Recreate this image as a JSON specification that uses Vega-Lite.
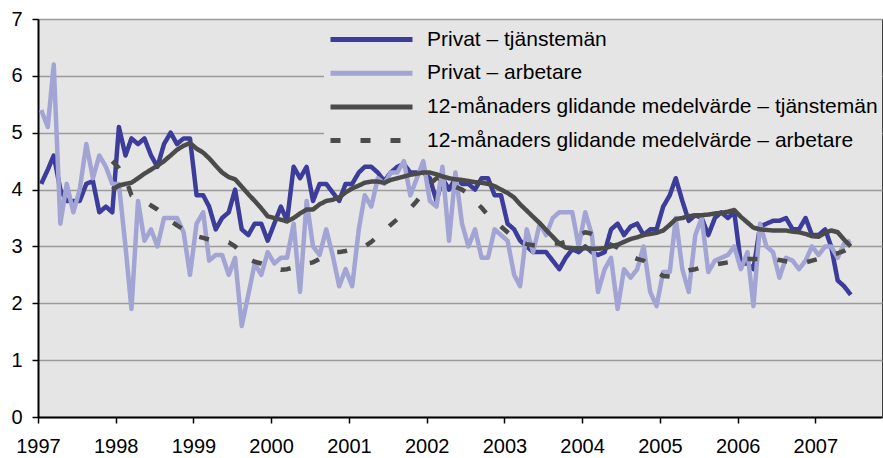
{
  "$schema": "https://vega.github.io/schema/vega-lite/v6.json",
  "width": 844,
  "height": 398,
  "autosize": {"type": "none"},
  "padding": {"left": 38, "top": 19, "right": 1, "bottom": 41},
  "background": "white",
  "config": {
    "font": "Liberation Sans",
    "view": {"fill": "#e5e5e5", "stroke": "#404040", "strokeWidth": 1}
  },
  "data": {"values": [
    {"d":"1997-01-16","t":4.1,"a":5.4},
    {"d":"1997-02-16","t":4.35,"a":5.1},
    {"d":"1997-03-16","t":4.6,"a":6.2},
    {"d":"1997-04-16","t":4.0,"a":3.4},
    {"d":"1997-05-16","t":3.8,"a":4.1},
    {"d":"1997-06-16","t":3.8,"a":3.6},
    {"d":"1997-07-16","t":3.8,"a":4.0},
    {"d":"1997-08-16","t":4.1,"a":4.8},
    {"d":"1997-09-16","t":4.15,"a":4.2},
    {"d":"1997-10-16","t":3.6,"a":4.6},
    {"d":"1997-11-16","t":3.7,"a":4.4},
    {"d":"1997-12-16","t":3.6,"a":4.1,"mt":4.0,"ma":4.5},
    {"d":"1998-01-16","t":5.1,"a":4.1,"mt":4.07,"ma":4.38},
    {"d":"1998-02-16","t":4.6,"a":3.0,"mt":4.1,"ma":4.2},
    {"d":"1998-03-16","t":4.9,"a":1.9,"mt":4.12,"ma":3.9},
    {"d":"1998-04-16","t":4.8,"a":3.8,"mt":4.2,"ma":3.85},
    {"d":"1998-05-16","t":4.9,"a":3.1,"mt":4.28,"ma":3.8},
    {"d":"1998-06-16","t":4.6,"a":3.3,"mt":4.35,"ma":3.72},
    {"d":"1998-07-16","t":4.4,"a":3.0,"mt":4.42,"ma":3.65},
    {"d":"1998-08-16","t":4.8,"a":3.5,"mt":4.5,"ma":3.55},
    {"d":"1998-09-16","t":5.0,"a":3.5,"mt":4.6,"ma":3.45},
    {"d":"1998-10-16","t":4.8,"a":3.5,"mt":4.7,"ma":3.37},
    {"d":"1998-11-16","t":4.9,"a":3.25,"mt":4.77,"ma":3.3},
    {"d":"1998-12-16","t":4.9,"a":2.5,"mt":4.82,"ma":3.22},
    {"d":"1999-01-16","t":3.9,"a":3.4,"mt":4.72,"ma":3.18},
    {"d":"1999-02-16","t":3.9,"a":3.6,"mt":4.65,"ma":3.15},
    {"d":"1999-03-16","t":3.7,"a":2.75,"mt":4.55,"ma":3.12},
    {"d":"1999-04-16","t":3.3,"a":2.85,"mt":4.42,"ma":3.1},
    {"d":"1999-05-16","t":3.5,"a":2.85,"mt":4.3,"ma":3.09},
    {"d":"1999-06-16","t":3.6,"a":2.5,"mt":4.22,"ma":3.07},
    {"d":"1999-07-16","t":4.0,"a":2.8,"mt":4.18,"ma":3.0},
    {"d":"1999-08-16","t":3.3,"a":1.6,"mt":4.05,"ma":2.88},
    {"d":"1999-09-16","t":3.2,"a":2.15,"mt":3.92,"ma":2.78},
    {"d":"1999-10-16","t":3.4,"a":2.7,"mt":3.8,"ma":2.73},
    {"d":"1999-11-16","t":3.4,"a":2.5,"mt":3.67,"ma":2.7},
    {"d":"1999-12-16","t":3.1,"a":2.9,"mt":3.53,"ma":2.66},
    {"d":"2000-01-16","t":3.4,"a":2.7,"mt":3.5,"ma":2.62},
    {"d":"2000-02-16","t":3.7,"a":2.8,"mt":3.47,"ma":2.59},
    {"d":"2000-03-16","t":3.45,"a":2.8,"mt":3.44,"ma":2.6},
    {"d":"2000-04-16","t":4.4,"a":3.4,"mt":3.5,"ma":2.63},
    {"d":"2000-05-16","t":4.2,"a":2.2,"mt":3.58,"ma":2.66},
    {"d":"2000-06-16","t":4.4,"a":3.8,"mt":3.65,"ma":2.7},
    {"d":"2000-07-16","t":3.8,"a":3.0,"mt":3.65,"ma":2.72},
    {"d":"2000-08-16","t":4.1,"a":2.85,"mt":3.74,"ma":2.78},
    {"d":"2000-09-16","t":4.1,"a":3.3,"mt":3.8,"ma":2.85},
    {"d":"2000-10-16","t":3.95,"a":2.85,"mt":3.82,"ma":2.9},
    {"d":"2000-11-16","t":3.8,"a":2.3,"mt":3.86,"ma":2.9},
    {"d":"2000-12-16","t":4.1,"a":2.6,"mt":3.95,"ma":2.92},
    {"d":"2001-01-16","t":4.1,"a":2.3,"mt":4.02,"ma":2.95},
    {"d":"2001-02-16","t":4.3,"a":3.3,"mt":4.07,"ma":2.98},
    {"d":"2001-03-16","t":4.4,"a":3.9,"mt":4.12,"ma":3.0},
    {"d":"2001-04-16","t":4.4,"a":3.7,"mt":4.14,"ma":3.08},
    {"d":"2001-05-16","t":4.3,"a":4.2,"mt":4.14,"ma":3.18},
    {"d":"2001-06-16","t":4.15,"a":4.1,"mt":4.12,"ma":3.28},
    {"d":"2001-07-16","t":4.3,"a":4.3,"mt":4.17,"ma":3.38},
    {"d":"2001-08-16","t":4.4,"a":4.3,"mt":4.2,"ma":3.48},
    {"d":"2001-09-16","t":4.45,"a":4.5,"mt":4.23,"ma":3.58},
    {"d":"2001-10-16","t":4.3,"a":3.9,"mt":4.26,"ma":3.67},
    {"d":"2001-11-16","t":4.3,"a":4.2,"mt":4.28,"ma":3.8},
    {"d":"2001-12-16","t":4.3,"a":4.5,"mt":4.3,"ma":3.95},
    {"d":"2002-01-16","t":4.2,"a":3.8,"mt":4.3,"ma":4.1},
    {"d":"2002-02-16","t":3.8,"a":3.7,"mt":4.27,"ma":4.2},
    {"d":"2002-03-16","t":4.2,"a":4.4,"mt":4.23,"ma":4.2},
    {"d":"2002-04-16","t":4.0,"a":3.1,"mt":4.2,"ma":4.12},
    {"d":"2002-05-16","t":4.2,"a":4.3,"mt":4.18,"ma":4.05},
    {"d":"2002-06-16","t":4.1,"a":3.4,"mt":4.17,"ma":4.0},
    {"d":"2002-07-16","t":4.1,"a":3.0,"mt":4.15,"ma":3.92},
    {"d":"2002-08-16","t":4.0,"a":3.3,"mt":4.13,"ma":3.8},
    {"d":"2002-09-16","t":4.2,"a":2.8,"mt":4.12,"ma":3.68},
    {"d":"2002-10-16","t":4.2,"a":2.8,"mt":4.1,"ma":3.55},
    {"d":"2002-11-16","t":3.9,"a":3.3,"mt":4.06,"ma":3.45},
    {"d":"2002-12-16","t":3.9,"a":3.2,"mt":4.0,"ma":3.35},
    {"d":"2003-01-16","t":3.4,"a":3.1,"mt":3.94,"ma":3.25},
    {"d":"2003-02-16","t":3.3,"a":2.5,"mt":3.86,"ma":3.15},
    {"d":"2003-03-16","t":3.1,"a":2.3,"mt":3.74,"ma":3.08},
    {"d":"2003-04-16","t":3.0,"a":3.3,"mt":3.63,"ma":3.04},
    {"d":"2003-05-16","t":2.9,"a":2.9,"mt":3.52,"ma":3.02},
    {"d":"2003-06-16","t":2.9,"a":3.4,"mt":3.41,"ma":3.02},
    {"d":"2003-07-16","t":2.9,"a":3.2,"mt":3.29,"ma":3.03},
    {"d":"2003-08-16","t":2.75,"a":3.5,"mt":3.17,"ma":3.05},
    {"d":"2003-09-16","t":2.6,"a":3.6,"mt":3.05,"ma":3.05},
    {"d":"2003-10-16","t":2.8,"a":3.6,"mt":2.98,"ma":3.08},
    {"d":"2003-11-16","t":2.95,"a":3.6,"mt":2.97,"ma":3.12},
    {"d":"2003-12-16","t":2.9,"a":3.0,"mt":2.97,"ma":3.2},
    {"d":"2004-01-16","t":3.0,"a":3.6,"mt":2.97,"ma":3.25},
    {"d":"2004-02-16","t":2.9,"a":3.2,"mt":2.96,"ma":3.22},
    {"d":"2004-03-16","t":2.85,"a":2.2,"mt":2.96,"ma":3.15},
    {"d":"2004-04-16","t":2.9,"a":2.6,"mt":2.97,"ma":3.08},
    {"d":"2004-05-16","t":3.3,"a":2.8,"mt":3.0,"ma":3.03},
    {"d":"2004-06-16","t":3.4,"a":1.9,"mt":3.03,"ma":2.98},
    {"d":"2004-07-16","t":3.2,"a":2.6,"mt":3.08,"ma":2.9},
    {"d":"2004-08-16","t":3.35,"a":2.45,"mt":3.13,"ma":2.83},
    {"d":"2004-09-16","t":3.4,"a":2.6,"mt":3.16,"ma":2.78},
    {"d":"2004-10-16","t":3.2,"a":3.0,"mt":3.2,"ma":2.75},
    {"d":"2004-11-16","t":3.3,"a":2.2,"mt":3.22,"ma":2.65},
    {"d":"2004-12-16","t":3.3,"a":1.95,"mt":3.24,"ma":2.55},
    {"d":"2005-01-16","t":3.7,"a":2.55,"mt":3.28,"ma":2.48},
    {"d":"2005-02-16","t":3.9,"a":2.55,"mt":3.38,"ma":2.47},
    {"d":"2005-03-16","t":4.2,"a":3.5,"mt":3.48,"ma":2.5},
    {"d":"2005-04-16","t":3.8,"a":2.6,"mt":3.5,"ma":2.55},
    {"d":"2005-05-16","t":3.45,"a":2.2,"mt":3.53,"ma":2.58},
    {"d":"2005-06-16","t":3.55,"a":3.2,"mt":3.55,"ma":2.6},
    {"d":"2005-07-16","t":3.5,"a":3.5,"mt":3.55,"ma":2.63},
    {"d":"2005-08-16","t":3.2,"a":2.55,"mt":3.56,"ma":2.66},
    {"d":"2005-09-16","t":3.5,"a":2.75,"mt":3.58,"ma":2.68},
    {"d":"2005-10-16","t":3.6,"a":2.8,"mt":3.59,"ma":2.7},
    {"d":"2005-11-16","t":3.5,"a":2.85,"mt":3.61,"ma":2.72},
    {"d":"2005-12-16","t":3.6,"a":3.0,"mt":3.64,"ma":2.75},
    {"d":"2006-01-16","t":2.7,"a":2.6,"mt":3.52,"ma":2.77},
    {"d":"2006-02-16","t":2.7,"a":2.9,"mt":3.42,"ma":2.78},
    {"d":"2006-03-16","t":2.6,"a":1.95,"mt":3.33,"ma":2.78},
    {"d":"2006-04-16","t":3.35,"a":3.4,"mt":3.3,"ma":2.78},
    {"d":"2006-05-16","t":3.4,"a":3.0,"mt":3.29,"ma":2.78},
    {"d":"2006-06-16","t":3.45,"a":2.9,"mt":3.28,"ma":2.78},
    {"d":"2006-07-16","t":3.45,"a":2.45,"mt":3.28,"ma":2.76},
    {"d":"2006-08-16","t":3.5,"a":2.8,"mt":3.28,"ma":2.74},
    {"d":"2006-09-16","t":3.3,"a":2.75,"mt":3.26,"ma":2.72},
    {"d":"2006-10-16","t":3.3,"a":2.6,"mt":3.25,"ma":2.72},
    {"d":"2006-11-16","t":3.5,"a":2.75,"mt":3.22,"ma":2.72},
    {"d":"2006-12-16","t":3.2,"a":3.0,"mt":3.18,"ma":2.75},
    {"d":"2007-01-16","t":3.2,"a":2.85,"mt":3.17,"ma":2.78},
    {"d":"2007-02-16","t":3.3,"a":3.0,"mt":3.24,"ma":2.82},
    {"d":"2007-03-16","t":3.0,"a":3.0,"mt":3.28,"ma":2.85},
    {"d":"2007-04-16","t":2.4,"a":2.8,"mt":3.25,"ma":2.88},
    {"d":"2007-05-16","t":2.3,"a":3.05,"mt":3.12,"ma":2.92},
    {"d":"2007-06-16","t":2.15,"a":3.1,"mt":3.0,"ma":2.98}
  ]},
  "transform": [{"fold": ["t", "a", "mt", "ma"], "as": ["serie", "varde"]}],
  "mark": {"type": "line", "strokeWidth": 4.5, "strokeJoin": "round", "strokeCap": "butt"},
  "encoding": {
    "x": {
      "field": "d", "type": "temporal",
      "scale": {"type": "utc", "domain": [{"year": 1997, "month": 1, "date": 1, "utc": true}, {"year": 2007, "month": 11, "date": 10, "utc": true}]},
      "axis": {
        "title": null, "format": "%Y", "grid": false, "labelFlush": false, "labelOverlap": false,
        "values": [{"year":1997,"utc":true},{"year":1998,"utc":true},{"year":1999,"utc":true},{"year":2000,"utc":true},{"year":2001,"utc":true},{"year":2002,"utc":true},{"year":2003,"utc":true},{"year":2004,"utc":true},{"year":2005,"utc":true},{"year":2006,"utc":true},{"year":2007,"utc":true}],
        "domainColor": "black", "domainWidth": 2, "tickColor": "black", "tickSize": 6, "tickWidth": 1.5,
        "labelFontSize": 20, "labelColor": "black", "labelPadding": 13
      }
    },
    "y": {
      "field": "varde", "type": "quantitative",
      "scale": {"domain": [0, 7], "nice": false},
      "axis": {
        "title": null, "values": [0, 1, 2, 3, 4, 5, 6, 7], "grid": true, "gridColor": "#9b9b9b", "gridWidth": 1.5,
        "domainColor": "black", "domainWidth": 2, "tickColor": "black", "tickSize": 6, "tickWidth": 1.5,
        "labelFontSize": 20, "labelColor": "black", "labelPadding": 10
      }
    },
    "color": {
      "field": "serie", "type": "nominal",
      "scale": {"domain": ["t", "a", "mt", "ma"], "range": ["#3c3c9a", "#a2a4d4", "#4b4b4b", "#4b4b4b"]},
      "legend": {
        "title": null, "orient": "none", "legendX": 286, "legendY": 6, "direction": "vertical",
        "symbolType": "stroke", "symbolSize": 6724, "symbolStrokeWidth": 5, "symbolOffset": 0,
        "labelFontSize": 21, "labelColor": "black", "labelOffset": 12, "labelLimit": 700,
        "fillColor": "#e5e5e5", "padding": 4, "rowPadding": 11.7, "clipHeight": 21,
        "labelExpr": "datum.value == 't' ? 'Privat – tjänstemän' : datum.value == 'a' ? 'Privat – arbetare' : datum.value == 'mt' ? '12-månaders glidande medelvärde – tjänstemän' : '12-månaders glidande medelvärde – arbetare'"
      }
    },
    "strokeDash": {
      "field": "serie", "type": "nominal",
      "scale": {"domain": ["t", "a", "mt", "ma"], "range": [[1, 0], [1, 0], [1, 0], [10, 20]]},
      "legend": {
        "title": null, "orient": "none", "legendX": 286, "legendY": 6, "direction": "vertical",
        "symbolType": "stroke", "symbolSize": 6724, "symbolStrokeWidth": 5, "symbolOffset": 0,
        "labelFontSize": 21, "labelColor": "black", "labelOffset": 12, "labelLimit": 700,
        "fillColor": "#e5e5e5", "padding": 4, "rowPadding": 11.7, "clipHeight": 21,
        "labelExpr": "datum.value == 't' ? 'Privat – tjänstemän' : datum.value == 'a' ? 'Privat – arbetare' : datum.value == 'mt' ? '12-månaders glidande medelvärde – tjänstemän' : '12-månaders glidande medelvärde – arbetare'"
      }
    }
  }
}
